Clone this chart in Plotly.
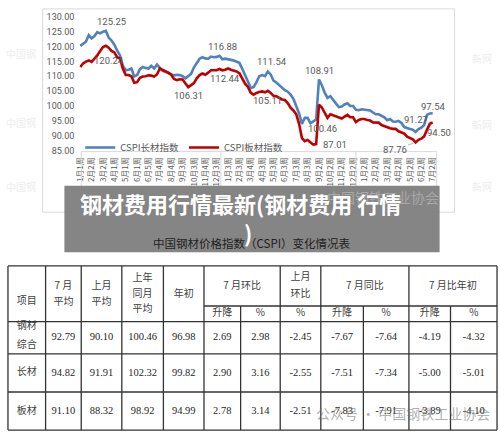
import plotly.graph_objects as go

# ---------------- data ----------------
weeks = list(range(125))
long_index = [120.2, 121.0, 121.6, 123.8, 122.7, 123.5, 124.8, 124.4, 125.0, 125.25,
              123.0, 122.0, 120.6, 118.6, 117.0, 113.5, 112.0, 112.2, 112.6, 109.9,
              110.4, 112.4, 113.1, 112.8, 112.6, 113.5, 112.6, 113.9, 113.0, 111.8,
              111.5, 111.0, 110.6, 110.3, 110.5, 110.4, 110.0, 109.3, 110.0, 110.8,
              113.0, 114.5, 115.9, 116.4, 116.0, 115.9, 116.6, 116.4, 116.5, 116.88,
              115.7, 115.9, 115.8, 115.5, 115.3, 115.0, 114.5, 112.5, 110.0, 108.2,
              106.0, 106.4, 108.0, 110.0, 110.4, 110.0, 111.54, 110.6, 108.5, 107.9,
              107.0, 106.0, 105.3, 104.8, 103.8, 102.4, 100.0, 97.5, 94.0, 96.0,
              96.0, 94.2, 94.8, 95.5, 108.91, 107.0, 104.5, 102.7, 103.3, 102.2,
              100.8, 99.6, 99.8, 100.5, 100.9, 100.0, 100.0, 98.7, 98.6, 98.9,
              98.8, 98.6, 98.5, 97.8, 97.2, 97.2, 96.8, 96.2, 95.2, 95.6,
              94.8, 94.7, 95.0, 94.3, 92.9, 92.5, 92.3, 92.0, 91.27, 92.2,
              92.7, 93.6, 97.0, 97.5, 97.54]
flat_index = [113.1, 114.3, 114.9, 115.3, 114.8, 115.8, 117.0, 118.5, 119.8, 120.24,
              119.6, 118.5, 118.0, 116.4, 115.9, 112.5, 110.4, 110.4, 110.0, 107.8,
              108.0, 109.5, 109.9, 110.0, 110.3, 110.2, 109.9, 110.6, 112.6, 112.1,
              111.7, 111.2, 110.5, 109.1, 108.7, 109.0, 108.9, 107.6, 106.31, 107.0,
              107.7, 109.3, 110.4, 110.9, 110.5, 111.2, 112.0, 112.0, 112.0, 112.44,
              112.0, 112.2, 112.6, 112.2, 111.9, 111.6, 111.0, 109.2, 107.5, 106.4,
              104.4, 103.8, 104.4, 104.7, 104.9, 104.6, 105.11, 104.4, 103.4, 103.3,
              102.6, 102.2, 102.0, 101.0, 99.4, 98.5, 97.2, 94.0, 89.2, 88.2,
              88.6, 87.9, 87.01, 87.2, 100.46, 99.5, 97.5, 96.0, 97.2, 96.9,
              96.6, 96.2, 95.8, 96.4, 97.0, 96.2, 96.2, 94.6, 95.3, 95.6,
              95.6, 95.3, 95.1, 94.5, 94.5, 94.4, 93.6, 93.2, 92.9, 92.5,
              92.3, 92.3, 91.5, 91.0, 90.7, 89.7, 89.2, 88.8, 87.76, 88.6,
              89.0, 89.8, 92.0, 94.0, 94.50]

tick_weeks = list(range(0, 125, 4))
tick_labels = ["1月1周", "2月2周", "3月2周", "4月1周", "5月1周", "6月1周", "6月5周", "7月4周",
               "8月4周", "9月3周", "10月3周", "11月4周", "12月3周",
               "1月3周", "2月3周", "3月4周", "4月3周", "5月3周", "6月3周", "7月3周", "8月3周",
               "9月2周", "10月2周", "11月2周", "12月2周",
               "1月2周", "2月2周", "3月2周", "4月2周", "5月2周", "6月2周", "7月2周"]
y_ticks = [85, 90, 95, 100, 105, 110, 115, 120, 125, 130]

long_label_weeks = [9, 49, 66, 84, 118, 124]
flat_label_weeks = [9, 38, 49, 66, 82, 84, 118, 124]

series_names = ["CSPI长材指数", "CSPI板材指数"]

# table data
row_names = ["钢材综合", "长材", "板材"]
jul_avg = [92.79, 94.82, 91.10]
prev_avg = [90.10, 91.91, 88.32]
ly_avg = [100.46, 102.32, 98.92]
year_start = [96.98, 99.82, 94.99]
mom_chg = [2.69, 2.90, 2.78]
mom_pct = [2.98, 3.16, 3.14]
prev_mom_pct = [-2.45, -2.55, -2.51]
yoy_chg = [-7.67, -7.51, -7.83]
yoy_pct = [-7.64, -7.34, -7.91]
ytd_chg = [-4.19, -5.00, -3.89]
ytd_pct = [-4.32, -5.01, -4.10]
table_columns = [jul_avg, prev_avg, ly_avg, year_start, mom_chg, mom_pct,
                 prev_mom_pct, yoy_chg, yoy_pct, ytd_chg, ytd_pct]

header_main = [["项目"], ["7 月", "平均"], ["上月", "平均"], ["上年", "同月", "平均"], ["年初"],
               ["7 月环比"], ["上月", "环比"], ["7 月同比"], ["7 月比年初"]]
header_sub = ["升降", "%", "%", "升降", "%", "升降", "%"]

title_text = "钢材费用行情最新(钢材费用 行情"
title_text2 = ")"
table_title = "中国钢材价格指数（CSPI）变化情况表"
source_mark = "中国钢铁工业协会"
footer_mark = "公众号 · 中国钢铁工业协会"

# ---------------- layout constants ----------------
W, H = 500, 439
CJK = "Noto Sans CJK SC"
BLUE = "#4F81BD"
RED = "#C00000"
GREY_TXT = "#595959"

col_edges = [3, 41, 77, 118, 160, 201, 238, 278, 319, 362, 408, 450, 497]
row_edges = [267, 308, 324, 357, 396, 435]
main_spans = [(0, 1), (1, 2), (2, 3), (3, 4), (4, 5), (5, 7), (7, 8), (8, 10), (10, 12)]
main_y = [[303], [288, 304], [288, 304], [280, 296, 312], [296], [288], [279, 296], [288], [288]]
sub_y = 316
data_row_y = [340.5, 376.5, 415.5]
rowname_y = [[329, 348], [376.5], [415.5]]

fig = go.Figure()

# chart traces
fig.add_trace(go.Scatter(x=weeks, y=long_index, mode="lines", name=series_names[0],
                         line=dict(color=BLUE, width=2.6), xaxis="x", yaxis="y"))
fig.add_trace(go.Scatter(x=weeks, y=flat_index, mode="lines", name=series_names[1],
                         line=dict(color=RED, width=2.6), xaxis="x", yaxis="y"))

# table text traces (overlay axis in pixel units)
def cx(a, b):
    return (col_edges[a] + col_edges[b]) / 2

hx, hy, ht = [], [], []
for lines, (a, b), ys in zip(header_main, main_spans, main_y):
    for t, yy in zip(lines, ys):
        hx.append(cx(a, b)); hy.append(yy); ht.append(t)
for i, t in enumerate(header_sub):
    hx.append(cx(5 + i, 6 + i)); hy.append(sub_y); ht.append(t)
for name, ys in zip(row_names, rowname_y):
    parts = [name[:2], name[2:]] if len(ys) == 2 else [name]
    for t, yy in zip(parts, ys):
        hx.append(cx(0, 1)); hy.append(yy); ht.append(t)

fig.add_trace(go.Scatter(x=hx, y=hy, text=ht, mode="text", showlegend=False,
                         textfont=dict(family=CJK, size=10, color="#404040"),
                         xaxis="x3", yaxis="y3", hoverinfo="skip"))

nx, ny, nt = [], [], []
for ci, col in enumerate(table_columns):
    for ri, v in enumerate(col):
        nx.append(cx(ci + 1, ci + 2)); ny.append(data_row_y[ri]); nt.append(f"{v:.2f}")
fig.add_trace(go.Scatter(x=nx, y=ny, text=nt, mode="text", showlegend=False,
                         textfont=dict(family="Liberation Serif", size=10.5, color="#262626"),
                         xaxis="x3", yaxis="y3", hoverinfo="skip"))

# ---------------- shapes ----------------
shapes = []
# chart frame
shapes.append(dict(type="rect", xref="x3", yref="y3", x0=38, x1=454, y0=4, y1=212,
                   line=dict(color="#d9d9d9", width=1), layer="below"))
# category axis box
shapes.append(dict(type="line", xref="x3", yref="y3", x0=77, x1=436, y0=150, y1=150,
                   line=dict(color="#d9d9d9", width=1)))
for xx in [77, 436]:
    shapes.append(dict(type="line", xref="x3", yref="y3", x0=xx, x1=xx, y0=150, y1=212,
                       line=dict(color="#d9d9d9", width=1)))
for wk in [49.5, 97]:
    shapes.append(dict(type="line", xref="x", yref="y3", x0=wk, x1=wk, y0=150, y1=212,
                       line=dict(color="#d9d9d9", width=1)))
# table grid
TL = dict(color="#333333", width=1.3)
for yy in [267, 324, 357, 396, 435]:
    shapes.append(dict(type="line", xref="x3", yref="y3", x0=col_edges[0], x1=col_edges[-1],
                       y0=yy, y1=yy, line=TL))
shapes.append(dict(type="line", xref="x3", yref="y3", x0=col_edges[5], x1=col_edges[-1],
                   y0=308, y1=308, line=TL))
for i, xx in enumerate(col_edges):
    y0 = 308 if i in (6, 9, 11) else 267
    shapes.append(dict(type="line", xref="x3", yref="y3", x0=xx, x1=xx, y0=y0, y1=435, line=TL))
# grey banner
shapes.append(dict(type="rect", xref="x3", yref="y3", x0=60, x1=439, y0=185, y1=253,
                   fillcolor="#808080", opacity=0.96, line=dict(width=0), layer="above"))

# ---------------- annotations ----------------
ann = []
long_off = {9: (6, 9.5), 49: (3, 9), 66: (4.5, 10), 84: (1, 9), 118: (0, 12), 124: (1, 7)}
flat_off = {9: (3, -15), 38: (0, -8), 49: (5, -10), 66: (0, -10), 82: (22, 0), 84: (4, -24),
            124: (6, -10)}
LF = dict(family="Roboto", size=9.5, color=GREY_TXT)
for wk in long_label_weeks:
    dx, dy = long_off[wk]
    ann.append(dict(xref="x", yref="y", x=wk, y=long_index[wk], text=f"{long_index[wk]:.2f}",
                    showarrow=False, xshift=dx, yshift=dy, font=LF))
for wk in flat_label_weeks:
    if wk == 118:
        ann.append(dict(xref="x", yref="y", x=wk, y=flat_index[wk], text=f"{flat_index[wk]:.2f}",
                        showarrow=True, ax=-21, ay=7, arrowhead=0, arrowwidth=0.8,
                        arrowcolor="#a6a6a6", standoff=2, font=LF))
        continue
    dx, dy = flat_off[wk]
    ann.append(dict(xref="x", yref="y", x=wk, y=flat_index[wk], text=f"{flat_index[wk]:.2f}",
                    showarrow=False, xshift=dx, yshift=dy, font=LF))

# faint watermarks
for (xx, yy, t) in [(16, 50, "中国钢"), (16, 120, "中国钢"), (16, 186, "中国钢"),
                    (482, 55, "新网"), (482, 122, "新网"), (482, 186, "新网")]:
    ann.append(dict(xref="x3", yref="y3", x=xx, y=yy, text=t, showarrow=False,
                    font=dict(family=CJK, size=10, color="#ededed")))

# source mark seen through banner
ann.append(dict(xref="x3", yref="y3", x=440, y=196, text=source_mark, showarrow=False,
                xanchor="right", font=dict(family=CJK, size=14, color="#a8a8a8")))
# banner title
ann.append(dict(xref="x3", yref="y3", x=238, y=203, text=title_text, showarrow=False,
                font=dict(family=CJK, size=22, color="white", weight="bold")))
ann.append(dict(xref="x3", yref="y3", x=245, y=232, text=title_text2, showarrow=False,
                font=dict(family=CJK, size=22, color="white", weight="bold")))
ann.append(dict(xref="x3", yref="y3", x=249, y=244, text=table_title, showarrow=False,
                font=dict(family=CJK, size=11.5, color="#1f1f1f")))
# footer watermark
ann.append(dict(xref="x3", yref="y3", x=402, y=418, text=footer_mark, showarrow=False,
                font=dict(family=CJK, size=14, color="rgba(110,110,110,0.55)")))

px_per_week = 356 / 124
fig.update_layout(
    width=W, height=H, margin=dict(l=0, r=0, t=0, b=0),
    paper_bgcolor="white", plot_bgcolor="rgba(0,0,0,0)",
    showlegend=True,
    legend=dict(orientation="h", x=76 / W, y=1 - 131 / H, xanchor="left", yanchor="top",
                bgcolor="rgba(0,0,0,0)", font=dict(family=CJK, size=9.5, color=GREY_TXT),
                itemwidth=30, tracegroupgap=0),
    xaxis=dict(domain=[75 / W, 440 / W], range=[(75 - 76) / px_per_week, (440 - 76) / px_per_week],
               tickvals=tick_weeks, ticktext=tick_labels, tickangle=-90,
               tickfont=dict(family=CJK, size=8, color=GREY_TXT), ticklabelstandoff=4,
               showgrid=False, zeroline=False, showline=False, ticks="", anchor="y"),
    yaxis=dict(domain=[1 - 149 / H, 1 - 12 / H], range=[85, 130], tickvals=y_ticks,
               tickformat=".2f", tickfont=dict(family="Roboto", size=9, color=GREY_TXT),
               showgrid=False, zeroline=False, showline=False, ticks="", ticklabelstandoff=4,
               anchor="x"),
    xaxis3=dict(domain=[0, 1], range=[0, W], visible=False, anchor="y3", fixedrange=True),
    yaxis3=dict(domain=[0, 1], range=[H, 0], visible=False, anchor="x3", fixedrange=True),
    shapes=shapes, annotations=ann,
)

fig.write_html("out.html")
